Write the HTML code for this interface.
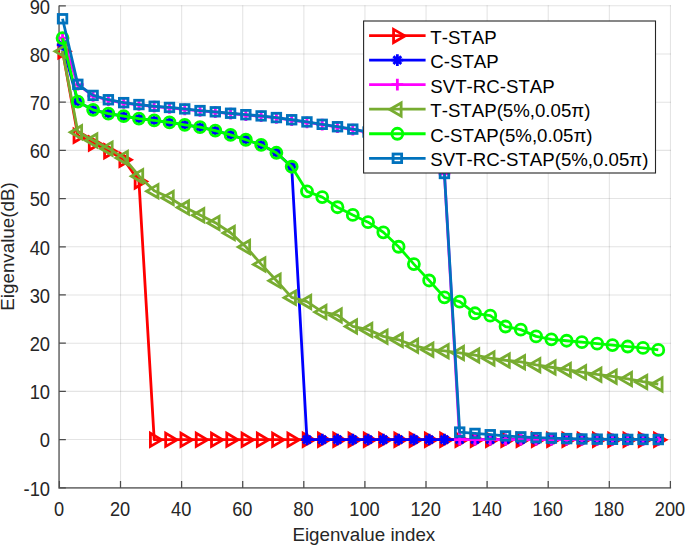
<!DOCTYPE html>
<html lang="en">
<head>
<meta charset="utf-8">
<title>Eigenvalue spectrum</title>
<style>
html,body{margin:0;padding:0;background:#ffffff;}
body{width:685px;height:545px;overflow:hidden;}
</style>
</head>
<body>
<svg width="685" height="545" viewBox="0 0 685 545" style="display:block;font-kerning:none;font-family:'Liberation Sans',Arial,Helvetica,sans-serif">
<rect width="685" height="545" fill="#ffffff"/>
<path d="M59.45,5.25V487.75M120.55,5.25V487.75M181.65,5.25V487.75M242.75,5.25V487.75M303.85,5.25V487.75M364.95,5.25V487.75M426.05,5.25V487.75M487.15,5.25V487.75M548.25,5.25V487.75M609.35,5.25V487.75M670.45,5.25V487.75" stroke="#262626" stroke-opacity="0.125" stroke-width="1.05" fill="none"/>
<path d="M59.5,487.75H671.0M59.5,439.55H671.0M59.5,391.35H671.0M59.5,343.15H671.0M59.5,294.95H671.0M59.5,246.75H671.0M59.5,198.55H671.0M59.5,150.35H671.0M59.5,102.15H671.0M59.5,53.95H671.0M59.5,5.75H671.0" stroke="#262626" stroke-opacity="0.125" stroke-width="1.05" fill="none"/>
<path d="M59.05,5.45V488.7M58.25,487.9H671.1" stroke="#787878" stroke-width="1.7" fill="none"/>
<path d="M59.40,487.9V480.90M120.50,487.9V480.90M181.60,487.9V480.90M242.70,487.9V480.90M303.80,487.9V480.90M364.90,487.9V480.90M426.00,487.9V480.90M487.10,487.9V480.90M548.20,487.9V480.90M609.30,487.9V480.90M670.40,487.9V480.90M59.05,487.75H65.85M59.05,439.55H65.85M59.05,391.35H65.85M59.05,343.15H65.85M59.05,294.95H65.85M59.05,246.75H65.85M59.05,198.55H65.85M59.05,150.35H65.85M59.05,102.15H65.85M59.05,53.95H65.85M59.05,5.75H65.85" stroke="#4c4c4c" stroke-width="1.25" fill="none"/>
<g>
<polyline points="62.55,51.06 77.83,135.41 93.10,143.12 108.38,150.83 123.66,159.51 138.93,181.20 154.20,439.55 169.48,439.55 184.75,439.55 200.03,439.55 215.31,439.55 230.58,439.55 245.85,439.55 261.13,439.55 276.40,439.55 291.68,439.55 306.96,439.55 322.23,439.55 337.50,439.55 352.78,439.55 368.06,439.55 383.33,439.55 398.61,439.55 413.88,439.55 429.15,439.55 444.43,439.55 459.70,439.55 474.98,439.55 490.25,439.55 505.53,439.55 520.81,439.55 536.08,439.55 551.36,439.55 566.63,439.55 581.90,439.55 597.18,439.55 612.46,439.55 627.73,439.55 643.00,439.55 658.28,439.55" fill="none" stroke="#ff0000" stroke-width="2.8" stroke-linejoin="round"/>
<path d="M70.14,51.36 L58.77,44.79 L58.77,57.93 Z" fill="none" stroke="#ff0000" stroke-width="2.8" stroke-linejoin="miter"/><path d="M85.41,135.71 L74.04,129.14 L74.04,142.28 Z" fill="none" stroke="#ff0000" stroke-width="2.8" stroke-linejoin="miter"/><path d="M100.68,143.42 L89.31,136.85 L89.31,149.99 Z" fill="none" stroke="#ff0000" stroke-width="2.8" stroke-linejoin="miter"/><path d="M115.96,151.13 L104.59,144.56 L104.59,157.70 Z" fill="none" stroke="#ff0000" stroke-width="2.8" stroke-linejoin="miter"/><path d="M131.24,159.81 L119.86,153.24 L119.86,166.38 Z" fill="none" stroke="#ff0000" stroke-width="2.8" stroke-linejoin="miter"/><path d="M146.51,181.50 L135.14,174.93 L135.14,188.07 Z" fill="none" stroke="#ff0000" stroke-width="2.8" stroke-linejoin="miter"/><path d="M161.78,439.85 L150.41,433.28 L150.41,446.42 Z" fill="none" stroke="#ff0000" stroke-width="2.8" stroke-linejoin="miter"/><path d="M177.06,439.85 L165.69,433.28 L165.69,446.42 Z" fill="none" stroke="#ff0000" stroke-width="2.8" stroke-linejoin="miter"/><path d="M192.34,439.85 L180.97,433.28 L180.97,446.42 Z" fill="none" stroke="#ff0000" stroke-width="2.8" stroke-linejoin="miter"/><path d="M207.61,439.85 L196.24,433.28 L196.24,446.42 Z" fill="none" stroke="#ff0000" stroke-width="2.8" stroke-linejoin="miter"/><path d="M222.89,439.85 L211.52,433.28 L211.52,446.42 Z" fill="none" stroke="#ff0000" stroke-width="2.8" stroke-linejoin="miter"/><path d="M238.16,439.85 L226.79,433.28 L226.79,446.42 Z" fill="none" stroke="#ff0000" stroke-width="2.8" stroke-linejoin="miter"/><path d="M253.44,439.85 L242.06,433.28 L242.06,446.42 Z" fill="none" stroke="#ff0000" stroke-width="2.8" stroke-linejoin="miter"/><path d="M268.71,439.85 L257.34,433.28 L257.34,446.42 Z" fill="none" stroke="#ff0000" stroke-width="2.8" stroke-linejoin="miter"/><path d="M283.98,439.85 L272.61,433.28 L272.61,446.42 Z" fill="none" stroke="#ff0000" stroke-width="2.8" stroke-linejoin="miter"/><path d="M299.26,439.85 L287.89,433.28 L287.89,446.42 Z" fill="none" stroke="#ff0000" stroke-width="2.8" stroke-linejoin="miter"/><path d="M314.54,439.85 L303.17,433.28 L303.17,446.42 Z" fill="none" stroke="#ff0000" stroke-width="2.8" stroke-linejoin="miter"/><path d="M329.81,439.85 L318.44,433.28 L318.44,446.42 Z" fill="none" stroke="#ff0000" stroke-width="2.8" stroke-linejoin="miter"/><path d="M345.08,439.85 L333.71,433.28 L333.71,446.42 Z" fill="none" stroke="#ff0000" stroke-width="2.8" stroke-linejoin="miter"/><path d="M360.36,439.85 L348.99,433.28 L348.99,446.42 Z" fill="none" stroke="#ff0000" stroke-width="2.8" stroke-linejoin="miter"/><path d="M375.63,439.85 L364.26,433.28 L364.26,446.42 Z" fill="none" stroke="#ff0000" stroke-width="2.8" stroke-linejoin="miter"/><path d="M390.91,439.85 L379.54,433.28 L379.54,446.42 Z" fill="none" stroke="#ff0000" stroke-width="2.8" stroke-linejoin="miter"/><path d="M406.19,439.85 L394.81,433.28 L394.81,446.42 Z" fill="none" stroke="#ff0000" stroke-width="2.8" stroke-linejoin="miter"/><path d="M421.46,439.85 L410.09,433.28 L410.09,446.42 Z" fill="none" stroke="#ff0000" stroke-width="2.8" stroke-linejoin="miter"/><path d="M436.73,439.85 L425.36,433.28 L425.36,446.42 Z" fill="none" stroke="#ff0000" stroke-width="2.8" stroke-linejoin="miter"/><path d="M452.01,439.85 L440.64,433.28 L440.64,446.42 Z" fill="none" stroke="#ff0000" stroke-width="2.8" stroke-linejoin="miter"/><path d="M467.28,439.85 L455.91,433.28 L455.91,446.42 Z" fill="none" stroke="#ff0000" stroke-width="2.8" stroke-linejoin="miter"/><path d="M482.56,439.85 L471.19,433.28 L471.19,446.42 Z" fill="none" stroke="#ff0000" stroke-width="2.8" stroke-linejoin="miter"/><path d="M497.83,439.85 L486.46,433.28 L486.46,446.42 Z" fill="none" stroke="#ff0000" stroke-width="2.8" stroke-linejoin="miter"/><path d="M513.11,439.85 L501.74,433.28 L501.74,446.42 Z" fill="none" stroke="#ff0000" stroke-width="2.8" stroke-linejoin="miter"/><path d="M528.39,439.85 L517.02,433.28 L517.02,446.42 Z" fill="none" stroke="#ff0000" stroke-width="2.8" stroke-linejoin="miter"/><path d="M543.66,439.85 L532.29,433.28 L532.29,446.42 Z" fill="none" stroke="#ff0000" stroke-width="2.8" stroke-linejoin="miter"/><path d="M558.94,439.85 L547.57,433.28 L547.57,446.42 Z" fill="none" stroke="#ff0000" stroke-width="2.8" stroke-linejoin="miter"/><path d="M574.21,439.85 L562.84,433.28 L562.84,446.42 Z" fill="none" stroke="#ff0000" stroke-width="2.8" stroke-linejoin="miter"/><path d="M589.49,439.85 L578.12,433.28 L578.12,446.42 Z" fill="none" stroke="#ff0000" stroke-width="2.8" stroke-linejoin="miter"/><path d="M604.76,439.85 L593.39,433.28 L593.39,446.42 Z" fill="none" stroke="#ff0000" stroke-width="2.8" stroke-linejoin="miter"/><path d="M620.04,439.85 L608.67,433.28 L608.67,446.42 Z" fill="none" stroke="#ff0000" stroke-width="2.8" stroke-linejoin="miter"/><path d="M635.31,439.85 L623.94,433.28 L623.94,446.42 Z" fill="none" stroke="#ff0000" stroke-width="2.8" stroke-linejoin="miter"/><path d="M650.59,439.85 L639.22,433.28 L639.22,446.42 Z" fill="none" stroke="#ff0000" stroke-width="2.8" stroke-linejoin="miter"/><path d="M665.86,439.85 L654.49,433.28 L654.49,446.42 Z" fill="none" stroke="#ff0000" stroke-width="2.8" stroke-linejoin="miter"/>
<polyline points="62.55,44.79 77.83,101.67 93.10,109.86 108.38,113.72 123.66,116.13 138.93,118.54 154.20,120.47 169.48,122.39 184.75,124.80 200.03,127.21 215.31,130.59 230.58,134.93 245.85,139.75 261.13,144.81 276.40,152.76 291.68,166.74 306.96,439.55 322.23,439.55 337.50,439.55 352.78,439.55 368.06,439.55 383.33,439.55 398.61,439.55 413.88,439.55 429.15,439.55 444.43,439.55 459.70,439.55 474.98,439.55 490.25,439.55 505.53,439.55 520.81,439.55 536.08,439.55 551.36,439.55 566.63,439.55 581.90,439.55 597.18,439.55 612.46,439.55 627.73,439.55 643.00,439.55 658.28,439.55" fill="none" stroke="#0000ff" stroke-width="2.8" stroke-linejoin="round"/>
<path d="M56.76,44.79H68.36M62.55,38.99V50.59M58.66,40.89L66.45,48.69M58.66,48.69L66.45,40.89" fill="none" stroke="#0000ff" stroke-width="2.8"/><path d="M72.03,101.67H83.63M77.83,95.87V107.47M73.93,97.77L81.73,105.57M73.93,105.57L81.73,97.77" fill="none" stroke="#0000ff" stroke-width="2.8"/><path d="M87.30,109.86H98.90M93.10,104.06V115.66M89.20,105.96L97.00,113.76M89.20,113.76L97.00,105.96" fill="none" stroke="#0000ff" stroke-width="2.8"/><path d="M102.58,113.72H114.18M108.38,107.92V119.52M104.48,109.82L112.28,117.62M104.48,117.62L112.28,109.82" fill="none" stroke="#0000ff" stroke-width="2.8"/><path d="M117.86,116.13H129.46M123.66,110.33V121.93M119.75,112.23L127.56,120.03M119.75,120.03L127.56,112.23" fill="none" stroke="#0000ff" stroke-width="2.8"/><path d="M133.13,118.54H144.73M138.93,112.74V124.34M135.03,114.64L142.83,122.44M135.03,122.44L142.83,114.64" fill="none" stroke="#0000ff" stroke-width="2.8"/><path d="M148.40,120.47H160.00M154.20,114.67V126.27M150.30,116.57L158.10,124.37M150.30,124.37L158.10,116.57" fill="none" stroke="#0000ff" stroke-width="2.8"/><path d="M163.68,122.39H175.28M169.48,116.59V128.19M165.58,118.49L173.38,126.29M165.58,126.29L173.38,118.49" fill="none" stroke="#0000ff" stroke-width="2.8"/><path d="M178.95,124.80H190.56M184.75,119.00V130.60M180.85,120.90L188.66,128.70M180.85,128.70L188.66,120.90" fill="none" stroke="#0000ff" stroke-width="2.8"/><path d="M194.23,127.21H205.83M200.03,121.41V133.01M196.13,123.31L203.93,131.11M196.13,131.11L203.93,123.31" fill="none" stroke="#0000ff" stroke-width="2.8"/><path d="M209.50,130.59H221.11M215.31,124.79V136.39M211.41,126.69L219.21,134.49M211.41,134.49L219.21,126.69" fill="none" stroke="#0000ff" stroke-width="2.8"/><path d="M224.78,134.93H236.38M230.58,129.13V140.73M226.68,131.03L234.48,138.83M226.68,138.83L234.48,131.03" fill="none" stroke="#0000ff" stroke-width="2.8"/><path d="M240.05,139.75H251.66M245.85,133.95V145.55M241.95,135.85L249.75,143.65M241.95,143.65L249.75,135.85" fill="none" stroke="#0000ff" stroke-width="2.8"/><path d="M255.33,144.81H266.93M261.13,139.01V150.61M257.23,140.91L265.03,148.71M257.23,148.71L265.03,140.91" fill="none" stroke="#0000ff" stroke-width="2.8"/><path d="M270.60,152.76H282.20M276.40,146.96V158.56M272.50,148.86L280.30,156.66M272.50,156.66L280.30,148.86" fill="none" stroke="#0000ff" stroke-width="2.8"/><path d="M285.88,166.74H297.48M291.68,160.94V172.54M287.78,162.84L295.58,170.64M287.78,170.64L295.58,162.84" fill="none" stroke="#0000ff" stroke-width="2.8"/><path d="M301.16,439.55H312.76M306.96,433.75V445.35M303.06,435.65L310.86,443.45M303.06,443.45L310.86,435.65" fill="none" stroke="#0000ff" stroke-width="2.8"/><path d="M316.43,439.55H328.03M322.23,433.75V445.35M318.33,435.65L326.13,443.45M318.33,443.45L326.13,435.65" fill="none" stroke="#0000ff" stroke-width="2.8"/><path d="M331.70,439.55H343.31M337.50,433.75V445.35M333.61,435.65L341.40,443.45M333.61,443.45L341.40,435.65" fill="none" stroke="#0000ff" stroke-width="2.8"/><path d="M346.98,439.55H358.58M352.78,433.75V445.35M348.88,435.65L356.68,443.45M348.88,443.45L356.68,435.65" fill="none" stroke="#0000ff" stroke-width="2.8"/><path d="M362.25,439.55H373.86M368.06,433.75V445.35M364.16,435.65L371.95,443.45M364.16,443.45L371.95,435.65" fill="none" stroke="#0000ff" stroke-width="2.8"/><path d="M377.53,439.55H389.13M383.33,433.75V445.35M379.43,435.65L387.23,443.45M379.43,443.45L387.23,435.65" fill="none" stroke="#0000ff" stroke-width="2.8"/><path d="M392.81,439.55H404.41M398.61,433.75V445.35M394.71,435.65L402.50,443.45M394.71,443.45L402.50,435.65" fill="none" stroke="#0000ff" stroke-width="2.8"/><path d="M408.08,439.55H419.68M413.88,433.75V445.35M409.98,435.65L417.78,443.45M409.98,443.45L417.78,435.65" fill="none" stroke="#0000ff" stroke-width="2.8"/><path d="M423.35,439.55H434.95M429.15,433.75V445.35M425.25,435.65L433.05,443.45M425.25,443.45L433.05,435.65" fill="none" stroke="#0000ff" stroke-width="2.8"/><path d="M438.63,439.55H450.23M444.43,433.75V445.35M440.53,435.65L448.33,443.45M440.53,443.45L448.33,435.65" fill="none" stroke="#0000ff" stroke-width="2.8"/><path d="M453.90,439.55H465.50M459.70,433.75V445.35M455.81,435.65L463.60,443.45M455.81,443.45L463.60,435.65" fill="none" stroke="#0000ff" stroke-width="2.8"/><path d="M469.18,439.55H480.78M474.98,433.75V445.35M471.08,435.65L478.88,443.45M471.08,443.45L478.88,435.65" fill="none" stroke="#0000ff" stroke-width="2.8"/><path d="M484.45,439.55H496.06M490.25,433.75V445.35M486.36,435.65L494.15,443.45M486.36,443.45L494.15,435.65" fill="none" stroke="#0000ff" stroke-width="2.8"/><path d="M499.73,439.55H511.33M505.53,433.75V445.35M501.63,435.65L509.43,443.45M501.63,443.45L509.43,435.65" fill="none" stroke="#0000ff" stroke-width="2.8"/><path d="M515.01,439.55H526.61M520.81,433.75V445.35M516.91,435.65L524.71,443.45M516.91,443.45L524.71,435.65" fill="none" stroke="#0000ff" stroke-width="2.8"/><path d="M530.28,439.55H541.88M536.08,433.75V445.35M532.18,435.65L539.98,443.45M532.18,443.45L539.98,435.65" fill="none" stroke="#0000ff" stroke-width="2.8"/><path d="M545.56,439.55H557.15M551.36,433.75V445.35M547.46,435.65L555.25,443.45M547.46,443.45L555.25,435.65" fill="none" stroke="#0000ff" stroke-width="2.8"/><path d="M560.83,439.55H572.43M566.63,433.75V445.35M562.73,435.65L570.53,443.45M562.73,443.45L570.53,435.65" fill="none" stroke="#0000ff" stroke-width="2.8"/><path d="M576.11,439.55H587.70M581.90,433.75V445.35M578.00,435.65L585.80,443.45M578.00,443.45L585.80,435.65" fill="none" stroke="#0000ff" stroke-width="2.8"/><path d="M591.38,439.55H602.98M597.18,433.75V445.35M593.28,435.65L601.08,443.45M593.28,443.45L601.08,435.65" fill="none" stroke="#0000ff" stroke-width="2.8"/><path d="M606.66,439.55H618.25M612.46,433.75V445.35M608.56,435.65L616.36,443.45M608.56,443.45L616.36,435.65" fill="none" stroke="#0000ff" stroke-width="2.8"/><path d="M621.93,439.55H633.53M627.73,433.75V445.35M623.83,435.65L631.63,443.45M623.83,443.45L631.63,435.65" fill="none" stroke="#0000ff" stroke-width="2.8"/><path d="M637.21,439.55H648.80M643.00,433.75V445.35M639.11,435.65L646.90,443.45M639.11,443.45L646.90,435.65" fill="none" stroke="#0000ff" stroke-width="2.8"/><path d="M652.48,439.55H664.08M658.28,433.75V445.35M654.38,435.65L662.18,443.45M654.38,443.45L662.18,435.65" fill="none" stroke="#0000ff" stroke-width="2.8"/>
<polyline points="62.55,38.04 77.83,84.70 93.10,95.79 108.38,100.13 123.66,103.02 138.93,104.95 154.20,106.63 169.48,107.84 184.75,109.28 200.03,110.97 215.31,112.18 230.58,113.62 245.85,115.07 261.13,116.27 276.40,117.96 291.68,120.13 306.96,122.30 322.23,124.71 337.50,127.12 352.78,129.53 368.06,132.42 383.33,136.28 398.61,141.58 413.88,148.81 429.15,159.41 444.43,173.87 459.70,439.55 474.98,439.55 490.25,439.55 505.53,439.55 520.81,439.55 536.08,439.55 551.36,439.55 566.63,439.55 581.90,439.55 597.18,439.55 612.46,439.55 627.73,439.55 643.00,439.55 658.28,439.55" fill="none" stroke="#ff00ff" stroke-width="2.8" stroke-linejoin="round"/>
<path d="M56.70,38.04H68.41M62.55,32.19V43.89" fill="none" stroke="#ff00ff" stroke-width="2.8"/><path d="M71.98,84.70H83.68M77.83,78.85V90.55" fill="none" stroke="#ff00ff" stroke-width="2.8"/><path d="M87.25,95.79H98.95M93.10,89.94V101.64" fill="none" stroke="#ff00ff" stroke-width="2.8"/><path d="M102.53,100.13H114.23M108.38,94.28V105.98" fill="none" stroke="#ff00ff" stroke-width="2.8"/><path d="M117.81,103.02H129.50M123.66,97.17V108.87" fill="none" stroke="#ff00ff" stroke-width="2.8"/><path d="M133.08,104.95H144.78M138.93,99.10V110.80" fill="none" stroke="#ff00ff" stroke-width="2.8"/><path d="M148.35,106.63H160.05M154.20,100.78V112.48" fill="none" stroke="#ff00ff" stroke-width="2.8"/><path d="M163.63,107.84H175.33M169.48,101.99V113.69" fill="none" stroke="#ff00ff" stroke-width="2.8"/><path d="M178.91,109.28H190.60M184.75,103.43V115.13" fill="none" stroke="#ff00ff" stroke-width="2.8"/><path d="M194.18,110.97H205.88M200.03,105.12V116.82" fill="none" stroke="#ff00ff" stroke-width="2.8"/><path d="M209.46,112.18H221.16M215.31,106.33V118.03" fill="none" stroke="#ff00ff" stroke-width="2.8"/><path d="M224.73,113.62H236.43M230.58,107.77V119.47" fill="none" stroke="#ff00ff" stroke-width="2.8"/><path d="M240.00,115.07H251.70M245.85,109.22V120.92" fill="none" stroke="#ff00ff" stroke-width="2.8"/><path d="M255.28,116.27H266.98M261.13,110.42V122.12" fill="none" stroke="#ff00ff" stroke-width="2.8"/><path d="M270.55,117.96H282.25M276.40,112.11V123.81" fill="none" stroke="#ff00ff" stroke-width="2.8"/><path d="M285.83,120.13H297.53M291.68,114.28V125.98" fill="none" stroke="#ff00ff" stroke-width="2.8"/><path d="M301.11,122.30H312.81M306.96,116.45V128.15" fill="none" stroke="#ff00ff" stroke-width="2.8"/><path d="M316.38,124.71H328.08M322.23,118.86V130.56" fill="none" stroke="#ff00ff" stroke-width="2.8"/><path d="M331.65,127.12H343.36M337.50,121.27V132.97" fill="none" stroke="#ff00ff" stroke-width="2.8"/><path d="M346.93,129.53H358.63M352.78,123.68V135.38" fill="none" stroke="#ff00ff" stroke-width="2.8"/><path d="M362.20,132.42H373.91M368.06,126.57V138.27" fill="none" stroke="#ff00ff" stroke-width="2.8"/><path d="M377.48,136.28H389.18M383.33,130.43V142.13" fill="none" stroke="#ff00ff" stroke-width="2.8"/><path d="M392.75,141.58H404.46M398.61,135.73V147.43" fill="none" stroke="#ff00ff" stroke-width="2.8"/><path d="M408.03,148.81H419.73M413.88,142.96V154.66" fill="none" stroke="#ff00ff" stroke-width="2.8"/><path d="M423.30,159.41H435.00M429.15,153.56V165.26" fill="none" stroke="#ff00ff" stroke-width="2.8"/><path d="M438.58,173.87H450.28M444.43,168.02V179.72" fill="none" stroke="#ff00ff" stroke-width="2.8"/><path d="M453.85,439.55H465.56M459.70,433.70V445.40" fill="none" stroke="#ff00ff" stroke-width="2.8"/><path d="M469.13,439.55H480.83M474.98,433.70V445.40" fill="none" stroke="#ff00ff" stroke-width="2.8"/><path d="M484.40,439.55H496.11M490.25,433.70V445.40" fill="none" stroke="#ff00ff" stroke-width="2.8"/><path d="M499.68,439.55H511.38M505.53,433.70V445.40" fill="none" stroke="#ff00ff" stroke-width="2.8"/><path d="M514.96,439.55H526.66M520.81,433.70V445.40" fill="none" stroke="#ff00ff" stroke-width="2.8"/><path d="M530.23,439.55H541.93M536.08,433.70V445.40" fill="none" stroke="#ff00ff" stroke-width="2.8"/><path d="M545.50,439.55H557.21M551.36,433.70V445.40" fill="none" stroke="#ff00ff" stroke-width="2.8"/><path d="M560.78,439.55H572.48M566.63,433.70V445.40" fill="none" stroke="#ff00ff" stroke-width="2.8"/><path d="M576.05,439.55H587.75M581.90,433.70V445.40" fill="none" stroke="#ff00ff" stroke-width="2.8"/><path d="M591.33,439.55H603.03M597.18,433.70V445.40" fill="none" stroke="#ff00ff" stroke-width="2.8"/><path d="M606.61,439.55H618.31M612.46,433.70V445.40" fill="none" stroke="#ff00ff" stroke-width="2.8"/><path d="M621.88,439.55H633.58M627.73,433.70V445.40" fill="none" stroke="#ff00ff" stroke-width="2.8"/><path d="M637.15,439.55H648.86M643.00,433.70V445.40" fill="none" stroke="#ff00ff" stroke-width="2.8"/><path d="M652.43,439.55H664.13M658.28,433.70V445.40" fill="none" stroke="#ff00ff" stroke-width="2.8"/>
<polyline points="62.55,51.06 77.83,132.03 93.10,140.23 108.38,148.42 123.66,157.58 138.93,175.90 154.20,190.84 169.48,197.59 184.75,207.23 200.03,214.94 215.31,222.65 230.58,232.77 245.85,246.75 261.13,264.10 276.40,280.49 291.68,297.36 306.96,301.70 322.23,311.82 337.50,315.19 352.78,326.28 368.06,329.65 383.33,336.40 398.61,339.78 413.88,345.56 429.15,349.42 444.43,350.86 459.70,352.79 474.98,355.20 490.25,358.09 505.53,360.26 520.81,361.95 536.08,364.84 551.36,367.25 566.63,369.66 581.90,372.07 597.18,374.48 612.46,376.41 627.73,378.82 643.00,381.71 658.28,384.12" fill="none" stroke="#77ac30" stroke-width="2.8" stroke-linejoin="round"/>
<path d="M54.98,51.36 L66.34,44.79 L66.34,57.93 Z" fill="none" stroke="#77ac30" stroke-width="2.8" stroke-linejoin="miter"/><path d="M70.25,132.33 L81.62,125.76 L81.62,138.90 Z" fill="none" stroke="#77ac30" stroke-width="2.8" stroke-linejoin="miter"/><path d="M85.52,140.53 L96.89,133.96 L96.89,147.10 Z" fill="none" stroke="#77ac30" stroke-width="2.8" stroke-linejoin="miter"/><path d="M100.80,148.72 L112.17,142.15 L112.17,155.29 Z" fill="none" stroke="#77ac30" stroke-width="2.8" stroke-linejoin="miter"/><path d="M116.08,157.88 L127.45,151.31 L127.45,164.45 Z" fill="none" stroke="#77ac30" stroke-width="2.8" stroke-linejoin="miter"/><path d="M131.35,176.20 L142.72,169.63 L142.72,182.77 Z" fill="none" stroke="#77ac30" stroke-width="2.8" stroke-linejoin="miter"/><path d="M146.62,191.14 L157.99,184.57 L157.99,197.71 Z" fill="none" stroke="#77ac30" stroke-width="2.8" stroke-linejoin="miter"/><path d="M161.90,197.89 L173.27,191.32 L173.27,204.46 Z" fill="none" stroke="#77ac30" stroke-width="2.8" stroke-linejoin="miter"/><path d="M177.17,207.53 L188.54,200.96 L188.54,214.10 Z" fill="none" stroke="#77ac30" stroke-width="2.8" stroke-linejoin="miter"/><path d="M192.45,215.24 L203.82,208.67 L203.82,221.81 Z" fill="none" stroke="#77ac30" stroke-width="2.8" stroke-linejoin="miter"/><path d="M207.72,222.95 L219.09,216.38 L219.09,229.52 Z" fill="none" stroke="#77ac30" stroke-width="2.8" stroke-linejoin="miter"/><path d="M223.00,233.07 L234.37,226.50 L234.37,239.64 Z" fill="none" stroke="#77ac30" stroke-width="2.8" stroke-linejoin="miter"/><path d="M238.27,247.05 L249.64,240.48 L249.64,253.62 Z" fill="none" stroke="#77ac30" stroke-width="2.8" stroke-linejoin="miter"/><path d="M253.55,264.40 L264.92,257.83 L264.92,270.97 Z" fill="none" stroke="#77ac30" stroke-width="2.8" stroke-linejoin="miter"/><path d="M268.82,280.79 L280.19,274.22 L280.19,287.36 Z" fill="none" stroke="#77ac30" stroke-width="2.8" stroke-linejoin="miter"/><path d="M284.10,297.66 L295.47,291.09 L295.47,304.23 Z" fill="none" stroke="#77ac30" stroke-width="2.8" stroke-linejoin="miter"/><path d="M299.38,302.00 L310.75,295.43 L310.75,308.57 Z" fill="none" stroke="#77ac30" stroke-width="2.8" stroke-linejoin="miter"/><path d="M314.65,312.12 L326.02,305.55 L326.02,318.69 Z" fill="none" stroke="#77ac30" stroke-width="2.8" stroke-linejoin="miter"/><path d="M329.93,315.49 L341.30,308.92 L341.30,322.06 Z" fill="none" stroke="#77ac30" stroke-width="2.8" stroke-linejoin="miter"/><path d="M345.20,326.58 L356.57,320.01 L356.57,333.15 Z" fill="none" stroke="#77ac30" stroke-width="2.8" stroke-linejoin="miter"/><path d="M360.48,329.95 L371.85,323.38 L371.85,336.52 Z" fill="none" stroke="#77ac30" stroke-width="2.8" stroke-linejoin="miter"/><path d="M375.75,336.70 L387.12,330.13 L387.12,343.27 Z" fill="none" stroke="#77ac30" stroke-width="2.8" stroke-linejoin="miter"/><path d="M391.03,340.08 L402.40,333.51 L402.40,346.65 Z" fill="none" stroke="#77ac30" stroke-width="2.8" stroke-linejoin="miter"/><path d="M406.30,345.86 L417.67,339.29 L417.67,352.43 Z" fill="none" stroke="#77ac30" stroke-width="2.8" stroke-linejoin="miter"/><path d="M421.57,349.72 L432.94,343.15 L432.94,356.29 Z" fill="none" stroke="#77ac30" stroke-width="2.8" stroke-linejoin="miter"/><path d="M436.85,351.16 L448.22,344.59 L448.22,357.73 Z" fill="none" stroke="#77ac30" stroke-width="2.8" stroke-linejoin="miter"/><path d="M452.12,353.09 L463.50,346.52 L463.50,359.66 Z" fill="none" stroke="#77ac30" stroke-width="2.8" stroke-linejoin="miter"/><path d="M467.40,355.50 L478.77,348.93 L478.77,362.07 Z" fill="none" stroke="#77ac30" stroke-width="2.8" stroke-linejoin="miter"/><path d="M482.68,358.39 L494.05,351.82 L494.05,364.96 Z" fill="none" stroke="#77ac30" stroke-width="2.8" stroke-linejoin="miter"/><path d="M497.95,360.56 L509.32,353.99 L509.32,367.13 Z" fill="none" stroke="#77ac30" stroke-width="2.8" stroke-linejoin="miter"/><path d="M513.23,362.25 L524.60,355.68 L524.60,368.82 Z" fill="none" stroke="#77ac30" stroke-width="2.8" stroke-linejoin="miter"/><path d="M528.50,365.14 L539.87,358.57 L539.87,371.71 Z" fill="none" stroke="#77ac30" stroke-width="2.8" stroke-linejoin="miter"/><path d="M543.77,367.55 L555.14,360.98 L555.14,374.12 Z" fill="none" stroke="#77ac30" stroke-width="2.8" stroke-linejoin="miter"/><path d="M559.05,369.96 L570.42,363.39 L570.42,376.53 Z" fill="none" stroke="#77ac30" stroke-width="2.8" stroke-linejoin="miter"/><path d="M574.32,372.37 L585.69,365.80 L585.69,378.94 Z" fill="none" stroke="#77ac30" stroke-width="2.8" stroke-linejoin="miter"/><path d="M589.60,374.78 L600.97,368.21 L600.97,381.35 Z" fill="none" stroke="#77ac30" stroke-width="2.8" stroke-linejoin="miter"/><path d="M604.88,376.71 L616.25,370.14 L616.25,383.28 Z" fill="none" stroke="#77ac30" stroke-width="2.8" stroke-linejoin="miter"/><path d="M620.15,379.12 L631.52,372.55 L631.52,385.69 Z" fill="none" stroke="#77ac30" stroke-width="2.8" stroke-linejoin="miter"/><path d="M635.42,382.01 L646.79,375.44 L646.79,388.58 Z" fill="none" stroke="#77ac30" stroke-width="2.8" stroke-linejoin="miter"/><path d="M650.70,384.42 L662.07,377.85 L662.07,390.99 Z" fill="none" stroke="#77ac30" stroke-width="2.8" stroke-linejoin="miter"/>
<polyline points="62.55,38.04 77.83,101.67 93.10,109.86 108.38,113.72 123.66,116.13 138.93,118.54 154.20,120.47 169.48,122.39 184.75,124.80 200.03,127.21 215.31,130.59 230.58,134.93 245.85,139.75 261.13,144.81 276.40,152.76 291.68,166.74 306.96,191.32 322.23,197.10 337.50,207.23 352.78,214.94 368.06,222.17 383.33,232.29 398.61,246.75 413.88,264.10 429.15,280.49 444.43,297.36 459.70,301.70 474.98,313.27 490.25,315.68 505.53,326.52 520.81,329.65 536.08,336.40 551.36,339.29 566.63,340.74 581.90,342.19 597.18,343.63 612.46,345.08 627.73,346.52 643.00,347.97 658.28,349.90" fill="none" stroke="#00ff00" stroke-width="2.8" stroke-linejoin="round"/>
<circle cx="62.55" cy="38.04" r="5.5" fill="none" stroke="#00ff00" stroke-width="2.8"/><circle cx="77.83" cy="101.67" r="5.5" fill="none" stroke="#00ff00" stroke-width="2.8"/><circle cx="93.10" cy="109.86" r="5.5" fill="none" stroke="#00ff00" stroke-width="2.8"/><circle cx="108.38" cy="113.72" r="5.5" fill="none" stroke="#00ff00" stroke-width="2.8"/><circle cx="123.66" cy="116.13" r="5.5" fill="none" stroke="#00ff00" stroke-width="2.8"/><circle cx="138.93" cy="118.54" r="5.5" fill="none" stroke="#00ff00" stroke-width="2.8"/><circle cx="154.20" cy="120.47" r="5.5" fill="none" stroke="#00ff00" stroke-width="2.8"/><circle cx="169.48" cy="122.39" r="5.5" fill="none" stroke="#00ff00" stroke-width="2.8"/><circle cx="184.75" cy="124.80" r="5.5" fill="none" stroke="#00ff00" stroke-width="2.8"/><circle cx="200.03" cy="127.21" r="5.5" fill="none" stroke="#00ff00" stroke-width="2.8"/><circle cx="215.31" cy="130.59" r="5.5" fill="none" stroke="#00ff00" stroke-width="2.8"/><circle cx="230.58" cy="134.93" r="5.5" fill="none" stroke="#00ff00" stroke-width="2.8"/><circle cx="245.85" cy="139.75" r="5.5" fill="none" stroke="#00ff00" stroke-width="2.8"/><circle cx="261.13" cy="144.81" r="5.5" fill="none" stroke="#00ff00" stroke-width="2.8"/><circle cx="276.40" cy="152.76" r="5.5" fill="none" stroke="#00ff00" stroke-width="2.8"/><circle cx="291.68" cy="166.74" r="5.5" fill="none" stroke="#00ff00" stroke-width="2.8"/><circle cx="306.96" cy="191.32" r="5.5" fill="none" stroke="#00ff00" stroke-width="2.8"/><circle cx="322.23" cy="197.10" r="5.5" fill="none" stroke="#00ff00" stroke-width="2.8"/><circle cx="337.50" cy="207.23" r="5.5" fill="none" stroke="#00ff00" stroke-width="2.8"/><circle cx="352.78" cy="214.94" r="5.5" fill="none" stroke="#00ff00" stroke-width="2.8"/><circle cx="368.06" cy="222.17" r="5.5" fill="none" stroke="#00ff00" stroke-width="2.8"/><circle cx="383.33" cy="232.29" r="5.5" fill="none" stroke="#00ff00" stroke-width="2.8"/><circle cx="398.61" cy="246.75" r="5.5" fill="none" stroke="#00ff00" stroke-width="2.8"/><circle cx="413.88" cy="264.10" r="5.5" fill="none" stroke="#00ff00" stroke-width="2.8"/><circle cx="429.15" cy="280.49" r="5.5" fill="none" stroke="#00ff00" stroke-width="2.8"/><circle cx="444.43" cy="297.36" r="5.5" fill="none" stroke="#00ff00" stroke-width="2.8"/><circle cx="459.70" cy="301.70" r="5.5" fill="none" stroke="#00ff00" stroke-width="2.8"/><circle cx="474.98" cy="313.27" r="5.5" fill="none" stroke="#00ff00" stroke-width="2.8"/><circle cx="490.25" cy="315.68" r="5.5" fill="none" stroke="#00ff00" stroke-width="2.8"/><circle cx="505.53" cy="326.52" r="5.5" fill="none" stroke="#00ff00" stroke-width="2.8"/><circle cx="520.81" cy="329.65" r="5.5" fill="none" stroke="#00ff00" stroke-width="2.8"/><circle cx="536.08" cy="336.40" r="5.5" fill="none" stroke="#00ff00" stroke-width="2.8"/><circle cx="551.36" cy="339.29" r="5.5" fill="none" stroke="#00ff00" stroke-width="2.8"/><circle cx="566.63" cy="340.74" r="5.5" fill="none" stroke="#00ff00" stroke-width="2.8"/><circle cx="581.90" cy="342.19" r="5.5" fill="none" stroke="#00ff00" stroke-width="2.8"/><circle cx="597.18" cy="343.63" r="5.5" fill="none" stroke="#00ff00" stroke-width="2.8"/><circle cx="612.46" cy="345.08" r="5.5" fill="none" stroke="#00ff00" stroke-width="2.8"/><circle cx="627.73" cy="346.52" r="5.5" fill="none" stroke="#00ff00" stroke-width="2.8"/><circle cx="643.00" cy="347.97" r="5.5" fill="none" stroke="#00ff00" stroke-width="2.8"/><circle cx="658.28" cy="349.90" r="5.5" fill="none" stroke="#00ff00" stroke-width="2.8"/>
<polyline points="62.55,18.76 77.83,84.32 93.10,95.40 108.38,99.74 123.66,102.63 138.93,104.56 154.20,106.25 169.48,107.45 184.75,108.90 200.03,110.58 215.31,111.79 230.58,113.24 245.85,114.68 261.13,115.89 276.40,117.57 291.68,119.74 306.96,121.91 322.23,124.32 337.50,126.73 352.78,129.14 368.06,132.03 383.33,135.89 398.61,141.19 413.88,148.42 429.15,159.03 444.43,173.49 459.70,432.08 474.98,433.43 490.25,434.73 505.53,435.94 520.81,436.85 536.08,437.62 551.36,438.10 566.63,438.59 581.90,438.97 597.18,439.16 612.46,439.31 627.73,439.41 643.00,439.45 658.28,439.55" fill="none" stroke="#0072bd" stroke-width="2.8" stroke-linejoin="round"/>
<rect x="58.27" y="14.48" width="8.56" height="8.56" fill="none" stroke="#0072bd" stroke-width="2.8"/><rect x="73.55" y="80.04" width="8.56" height="8.56" fill="none" stroke="#0072bd" stroke-width="2.8"/><rect x="88.82" y="91.12" width="8.56" height="8.56" fill="none" stroke="#0072bd" stroke-width="2.8"/><rect x="104.10" y="95.46" width="8.56" height="8.56" fill="none" stroke="#0072bd" stroke-width="2.8"/><rect x="119.38" y="98.35" width="8.56" height="8.56" fill="none" stroke="#0072bd" stroke-width="2.8"/><rect x="134.65" y="100.28" width="8.56" height="8.56" fill="none" stroke="#0072bd" stroke-width="2.8"/><rect x="149.92" y="101.97" width="8.56" height="8.56" fill="none" stroke="#0072bd" stroke-width="2.8"/><rect x="165.20" y="103.17" width="8.56" height="8.56" fill="none" stroke="#0072bd" stroke-width="2.8"/><rect x="180.47" y="104.62" width="8.56" height="8.56" fill="none" stroke="#0072bd" stroke-width="2.8"/><rect x="195.75" y="106.30" width="8.56" height="8.56" fill="none" stroke="#0072bd" stroke-width="2.8"/><rect x="211.03" y="107.51" width="8.56" height="8.56" fill="none" stroke="#0072bd" stroke-width="2.8"/><rect x="226.30" y="108.96" width="8.56" height="8.56" fill="none" stroke="#0072bd" stroke-width="2.8"/><rect x="241.57" y="110.40" width="8.56" height="8.56" fill="none" stroke="#0072bd" stroke-width="2.8"/><rect x="256.85" y="111.61" width="8.56" height="8.56" fill="none" stroke="#0072bd" stroke-width="2.8"/><rect x="272.12" y="113.29" width="8.56" height="8.56" fill="none" stroke="#0072bd" stroke-width="2.8"/><rect x="287.40" y="115.46" width="8.56" height="8.56" fill="none" stroke="#0072bd" stroke-width="2.8"/><rect x="302.68" y="117.63" width="8.56" height="8.56" fill="none" stroke="#0072bd" stroke-width="2.8"/><rect x="317.95" y="120.04" width="8.56" height="8.56" fill="none" stroke="#0072bd" stroke-width="2.8"/><rect x="333.23" y="122.45" width="8.56" height="8.56" fill="none" stroke="#0072bd" stroke-width="2.8"/><rect x="348.50" y="124.86" width="8.56" height="8.56" fill="none" stroke="#0072bd" stroke-width="2.8"/><rect x="363.78" y="127.75" width="8.56" height="8.56" fill="none" stroke="#0072bd" stroke-width="2.8"/><rect x="379.05" y="131.61" width="8.56" height="8.56" fill="none" stroke="#0072bd" stroke-width="2.8"/><rect x="394.33" y="136.91" width="8.56" height="8.56" fill="none" stroke="#0072bd" stroke-width="2.8"/><rect x="409.60" y="144.14" width="8.56" height="8.56" fill="none" stroke="#0072bd" stroke-width="2.8"/><rect x="424.88" y="154.75" width="8.56" height="8.56" fill="none" stroke="#0072bd" stroke-width="2.8"/><rect x="440.15" y="169.21" width="8.56" height="8.56" fill="none" stroke="#0072bd" stroke-width="2.8"/><rect x="455.43" y="427.80" width="8.56" height="8.56" fill="none" stroke="#0072bd" stroke-width="2.8"/><rect x="470.70" y="429.15" width="8.56" height="8.56" fill="none" stroke="#0072bd" stroke-width="2.8"/><rect x="485.98" y="430.45" width="8.56" height="8.56" fill="none" stroke="#0072bd" stroke-width="2.8"/><rect x="501.25" y="431.66" width="8.56" height="8.56" fill="none" stroke="#0072bd" stroke-width="2.8"/><rect x="516.53" y="432.57" width="8.56" height="8.56" fill="none" stroke="#0072bd" stroke-width="2.8"/><rect x="531.80" y="433.34" width="8.56" height="8.56" fill="none" stroke="#0072bd" stroke-width="2.8"/><rect x="547.08" y="433.82" width="8.56" height="8.56" fill="none" stroke="#0072bd" stroke-width="2.8"/><rect x="562.35" y="434.31" width="8.56" height="8.56" fill="none" stroke="#0072bd" stroke-width="2.8"/><rect x="577.62" y="434.69" width="8.56" height="8.56" fill="none" stroke="#0072bd" stroke-width="2.8"/><rect x="592.90" y="434.88" width="8.56" height="8.56" fill="none" stroke="#0072bd" stroke-width="2.8"/><rect x="608.18" y="435.03" width="8.56" height="8.56" fill="none" stroke="#0072bd" stroke-width="2.8"/><rect x="623.45" y="435.13" width="8.56" height="8.56" fill="none" stroke="#0072bd" stroke-width="2.8"/><rect x="638.73" y="435.17" width="8.56" height="8.56" fill="none" stroke="#0072bd" stroke-width="2.8"/><rect x="654.00" y="435.27" width="8.56" height="8.56" fill="none" stroke="#0072bd" stroke-width="2.8"/>
</g>
<text transform="translate(59.00,515.5) scale(0.975,1.035)" font-size="18.67" text-anchor="middle" fill="#262626">0</text>
<text transform="translate(120.10,515.5) scale(0.975,1.035)" font-size="18.67" text-anchor="middle" fill="#262626">20</text>
<text transform="translate(181.20,515.5) scale(0.975,1.035)" font-size="18.67" text-anchor="middle" fill="#262626">40</text>
<text transform="translate(242.30,515.5) scale(0.975,1.035)" font-size="18.67" text-anchor="middle" fill="#262626">60</text>
<text transform="translate(303.40,515.5) scale(0.975,1.035)" font-size="18.67" text-anchor="middle" fill="#262626">80</text>
<text transform="translate(364.50,515.5) scale(0.975,1.035)" font-size="18.67" text-anchor="middle" fill="#262626">100</text>
<text transform="translate(425.60,515.5) scale(0.975,1.035)" font-size="18.67" text-anchor="middle" fill="#262626">120</text>
<text transform="translate(486.70,515.5) scale(0.975,1.035)" font-size="18.67" text-anchor="middle" fill="#262626">140</text>
<text transform="translate(547.80,515.5) scale(0.975,1.035)" font-size="18.67" text-anchor="middle" fill="#262626">160</text>
<text transform="translate(608.90,515.5) scale(0.975,1.035)" font-size="18.67" text-anchor="middle" fill="#262626">180</text>
<text transform="translate(670.00,515.5) scale(0.975,1.035)" font-size="18.67" text-anchor="middle" fill="#262626">200</text>
<text transform="translate(50.1,495.55) scale(0.985,1.035)" font-size="18.67" text-anchor="end" fill="#262626">-10</text>
<text transform="translate(50.1,447.35) scale(0.985,1.035)" font-size="18.67" text-anchor="end" fill="#262626">0</text>
<text transform="translate(50.1,399.15) scale(0.985,1.035)" font-size="18.67" text-anchor="end" fill="#262626">10</text>
<text transform="translate(50.1,350.95) scale(0.985,1.035)" font-size="18.67" text-anchor="end" fill="#262626">20</text>
<text transform="translate(50.1,302.75) scale(0.985,1.035)" font-size="18.67" text-anchor="end" fill="#262626">30</text>
<text transform="translate(50.1,254.55) scale(0.985,1.035)" font-size="18.67" text-anchor="end" fill="#262626">40</text>
<text transform="translate(50.1,206.35) scale(0.985,1.035)" font-size="18.67" text-anchor="end" fill="#262626">50</text>
<text transform="translate(50.1,158.15) scale(0.985,1.035)" font-size="18.67" text-anchor="end" fill="#262626">60</text>
<text transform="translate(50.1,109.95) scale(0.985,1.035)" font-size="18.67" text-anchor="end" fill="#262626">70</text>
<text transform="translate(50.1,61.75) scale(0.985,1.035)" font-size="18.67" text-anchor="end" fill="#262626">80</text>
<text transform="translate(50.1,13.55) scale(0.985,1.035)" font-size="18.67" text-anchor="end" fill="#262626">90</text>
<text transform="translate(363.8,541.2) scale(1.005,1.02)" font-size="18.67" text-anchor="middle" fill="#262626">Eigenvalue index</text>
<text transform="translate(13.7,246.5) rotate(-90) scale(1.006,1.0)" font-size="18.67" text-anchor="middle" fill="#262626">Eigenvalue(dB)</text>
<rect x="363.6" y="21.0" width="291.9" height="152.0" fill="#ffffff" stroke="#262626" stroke-width="1.1"/>
<path d="M369.1,35.60H425.6" stroke="#ff0000" stroke-width="2.8" fill="none"/>
<path d="M404.93,35.90 L393.56,29.33 L393.56,42.47 Z" fill="none" stroke="#ff0000" stroke-width="2.8" stroke-linejoin="miter"/>
<text x="430.3" y="43.70" font-size="18.67" fill="#000000" style="font-kerning:none">T-STAP</text>
<path d="M369.1,60.14H425.6" stroke="#0000ff" stroke-width="2.8" fill="none"/>
<path d="M391.55,60.14H403.15M397.35,54.34V65.94M393.45,56.24L401.25,64.04M393.45,64.04L401.25,56.24" fill="none" stroke="#0000ff" stroke-width="2.8"/>
<text x="430.3" y="68.24" font-size="18.67" fill="#000000" style="font-kerning:none">C-STAP</text>
<path d="M369.1,84.68H425.6" stroke="#ff00ff" stroke-width="2.8" fill="none"/>
<path d="M391.50,84.68H403.20M397.35,78.83V90.53" fill="none" stroke="#ff00ff" stroke-width="2.8"/>
<text x="430.3" y="92.78" font-size="18.67" fill="#000000" style="font-kerning:none">SVT-RC-STAP</text>
<path d="M369.1,109.22H425.6" stroke="#77ac30" stroke-width="2.8" fill="none"/>
<path d="M389.77,109.52 L401.14,102.95 L401.14,116.09 Z" fill="none" stroke="#77ac30" stroke-width="2.8" stroke-linejoin="miter"/>
<text x="430.3" y="117.32" font-size="18.67" fill="#000000" style="font-kerning:none">T-STAP(5%,0.05π)</text>
<path d="M369.1,133.76H425.6" stroke="#00ff00" stroke-width="2.8" fill="none"/>
<circle cx="397.35" cy="133.76" r="5.5" fill="none" stroke="#00ff00" stroke-width="2.8"/>
<text x="430.3" y="141.86" font-size="18.67" fill="#000000" style="font-kerning:none">C-STAP(5%,0.05π)</text>
<path d="M369.1,158.30H425.6" stroke="#0072bd" stroke-width="2.8" fill="none"/>
<rect x="393.07" y="154.02" width="8.56" height="8.56" fill="none" stroke="#0072bd" stroke-width="2.8"/>
<text x="430.3" y="166.40" font-size="18.67" fill="#000000" style="font-kerning:none">SVT-RC-STAP(5%,0.05π)</text>
</svg>
</body>
</html>
